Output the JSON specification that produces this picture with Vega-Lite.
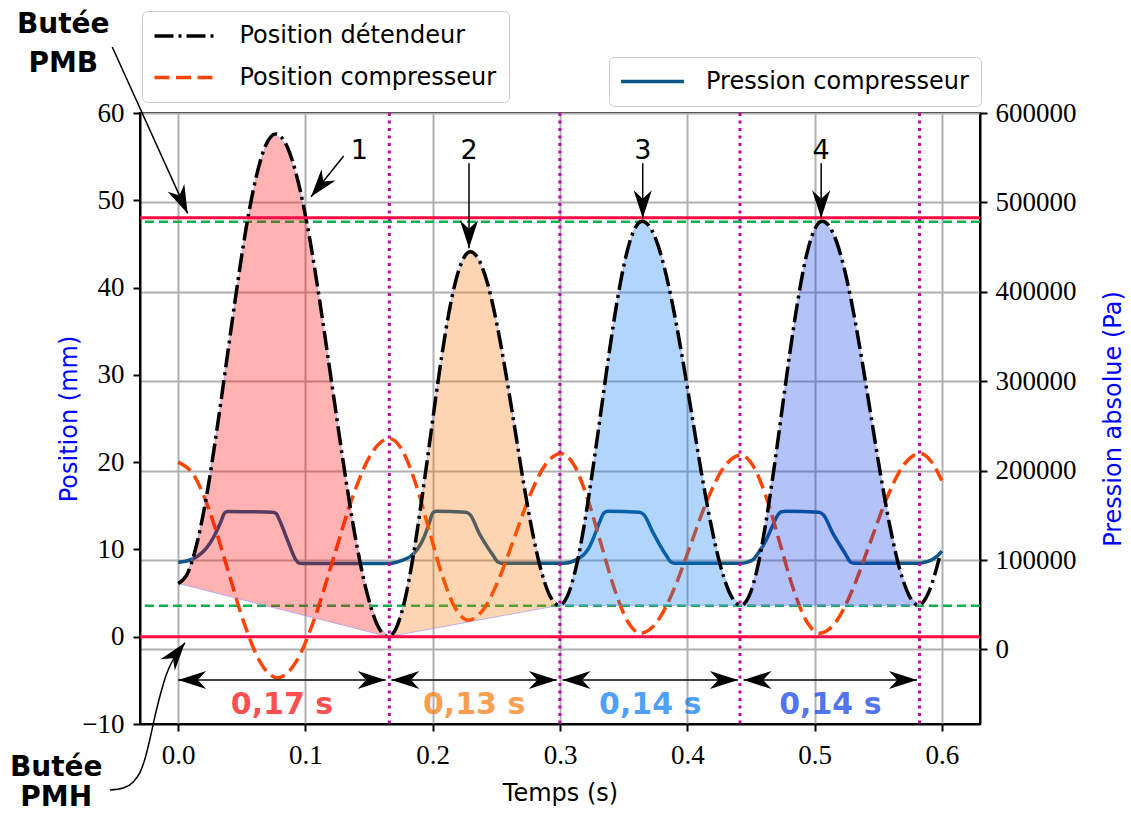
{
  "$schema": "https://vega.github.io/schema/vega-lite/v6.json",
  "width": 840,
  "height": 611,
  "autosize": {"type": "none"},
  "padding": {"left": 140, "top": 113, "right": 151, "bottom": 92},
  "background": "white",
  "config": {
    "view": {"stroke": "black", "strokeWidth": 2},
    "font": "DejaVu Sans",
    "axis": {
      "domainColor": "black", "domainWidth": 2, "tickColor": "black", "tickWidth": 2, "tickSize": 7,
      "labelFont": "Liberation Serif", "labelFontSize": 27, "labelColor": "black",
      "gridColor": "#b0b0b0", "gridWidth": 2, "gridOpacity": 1,
      "titleFont": "DejaVu Sans", "titleFontSize": 24, "titleFontWeight": "normal",
      "labelFlush": false, "labelOverlap": false, "labelBound": false
    },
    "legend": {"strokeColor": "#cccccc", "cornerRadius": 5, "fillColor": "white", "labelFont": "DejaVu Sans", "labelFontSize": 24, "labelColor": "black", "labelLimit": 500}
  },
  "datasets": {
    "pres": [
      {"t": 0, "v": 97500, "s": "Pression compresseur"},
      {"t": 0.008, "v": 99500, "s": "Pression compresseur"},
      {"t": 0.015, "v": 104000, "s": "Pression compresseur"},
      {"t": 0.022, "v": 113000, "s": "Pression compresseur"},
      {"t": 0.028, "v": 126000, "s": "Pression compresseur"},
      {"t": 0.033, "v": 141000, "s": "Pression compresseur"},
      {"t": 0.0365, "v": 152500, "s": "Pression compresseur"},
      {"t": 0.039, "v": 154300, "s": "Pression compresseur"},
      {"t": 0.055, "v": 154000, "s": "Pression compresseur"},
      {"t": 0.074, "v": 153500, "s": "Pression compresseur"},
      {"t": 0.077, "v": 152000, "s": "Pression compresseur"},
      {"t": 0.0795, "v": 145000, "s": "Pression compresseur"},
      {"t": 0.0865, "v": 120000, "s": "Pression compresseur"},
      {"t": 0.0925, "v": 100000, "s": "Pression compresseur"},
      {"t": 0.095, "v": 96500, "s": "Pression compresseur"},
      {"t": 0.098, "v": 96000, "s": "Pression compresseur"},
      {"t": 0.165, "v": 96000, "s": "Pression compresseur"},
      {"t": 0.170, "v": 97000, "s": "Pression compresseur"},
      {"t": 0.176, "v": 99500, "s": "Pression compresseur"},
      {"t": 0.183, "v": 104500, "s": "Pression compresseur"},
      {"t": 0.188, "v": 112000, "s": "Pression compresseur"},
      {"t": 0.193, "v": 125000, "s": "Pression compresseur"},
      {"t": 0.197, "v": 140000, "s": "Pression compresseur"},
      {"t": 0.2, "v": 152500, "s": "Pression compresseur"},
      {"t": 0.203, "v": 154500, "s": "Pression compresseur"},
      {"t": 0.226, "v": 153500, "s": "Pression compresseur"},
      {"t": 0.2295, "v": 150500, "s": "Pression compresseur"},
      {"t": 0.2365, "v": 130000, "s": "Pression compresseur"},
      {"t": 0.2475, "v": 105000, "s": "Pression compresseur"},
      {"t": 0.251, "v": 98000, "s": "Pression compresseur"},
      {"t": 0.254, "v": 96500, "s": "Pression compresseur"},
      {"t": 0.303, "v": 96500, "s": "Pression compresseur"},
      {"t": 0.308, "v": 97500, "s": "Pression compresseur"},
      {"t": 0.313, "v": 100500, "s": "Pression compresseur"},
      {"t": 0.318, "v": 105000, "s": "Pression compresseur"},
      {"t": 0.3225, "v": 113000, "s": "Pression compresseur"},
      {"t": 0.3268, "v": 126500, "s": "Pression compresseur"},
      {"t": 0.331, "v": 142000, "s": "Pression compresseur"},
      {"t": 0.3345, "v": 152500, "s": "Pression compresseur"},
      {"t": 0.3375, "v": 154500, "s": "Pression compresseur"},
      {"t": 0.3625, "v": 153500, "s": "Pression compresseur"},
      {"t": 0.366, "v": 150500, "s": "Pression compresseur"},
      {"t": 0.373, "v": 131000, "s": "Pression compresseur"},
      {"t": 0.3835, "v": 105000, "s": "Pression compresseur"},
      {"t": 0.387, "v": 98000, "s": "Pression compresseur"},
      {"t": 0.390, "v": 96500, "s": "Pression compresseur"},
      {"t": 0.443, "v": 96500, "s": "Pression compresseur"},
      {"t": 0.448, "v": 98000, "s": "Pression compresseur"},
      {"t": 0.4525, "v": 101500, "s": "Pression compresseur"},
      {"t": 0.4563, "v": 109000, "s": "Pression compresseur"},
      {"t": 0.4615, "v": 121000, "s": "Pression compresseur"},
      {"t": 0.4668, "v": 137500, "s": "Pression compresseur"},
      {"t": 0.471, "v": 150000, "s": "Pression compresseur"},
      {"t": 0.474, "v": 154000, "s": "Pression compresseur"},
      {"t": 0.478, "v": 154500, "s": "Pression compresseur"},
      {"t": 0.5035, "v": 153500, "s": "Pression compresseur"},
      {"t": 0.507, "v": 150500, "s": "Pression compresseur"},
      {"t": 0.514, "v": 131000, "s": "Pression compresseur"},
      {"t": 0.525, "v": 105000, "s": "Pression compresseur"},
      {"t": 0.528, "v": 98000, "s": "Pression compresseur"},
      {"t": 0.531, "v": 96500, "s": "Pression compresseur"},
      {"t": 0.583, "v": 96500, "s": "Pression compresseur"},
      {"t": 0.588, "v": 98000, "s": "Pression compresseur"},
      {"t": 0.5925, "v": 100500, "s": "Pression compresseur"},
      {"t": 0.597, "v": 105000, "s": "Pression compresseur"},
      {"t": 0.6, "v": 110000, "s": "Pression compresseur"}
    ],
    "comp": [
      {"t": 0, "v": 20.0, "s": "Position compresseur"},
      {"t": 0.013, "v": 18.35, "s": "Position compresseur"},
      {"t": 0.026, "v": 13.82, "s": "Position compresseur"},
      {"t": 0.039, "v": 7.65, "s": "Position compresseur"},
      {"t": 0.052, "v": 1.47, "s": "Position compresseur"},
      {"t": 0.065, "v": -3.05, "s": "Position compresseur"},
      {"t": 0.078, "v": -4.7, "s": "Position compresseur"},
      {"t": 0.0927, "v": -2.86, "s": "Position compresseur"},
      {"t": 0.1073, "v": 2.15, "s": "Position compresseur"},
      {"t": 0.122, "v": 9.0, "s": "Position compresseur"},
      {"t": 0.1367, "v": 15.85, "s": "Position compresseur"},
      {"t": 0.1513, "v": 20.86, "s": "Position compresseur"},
      {"t": 0.166, "v": 22.7, "s": "Position compresseur"},
      {"t": 0.1763, "v": 21.31, "s": "Position compresseur"},
      {"t": 0.1867, "v": 17.5, "s": "Position compresseur"},
      {"t": 0.197, "v": 12.3, "s": "Position compresseur"},
      {"t": 0.2073, "v": 7.1, "s": "Position compresseur"},
      {"t": 0.2177, "v": 3.29, "s": "Position compresseur"},
      {"t": 0.228, "v": 1.9, "s": "Position compresseur"},
      {"t": 0.2401, "v": 3.18, "s": "Position compresseur"},
      {"t": 0.2522, "v": 6.68, "s": "Position compresseur"},
      {"t": 0.2644, "v": 11.45, "s": "Position compresseur"},
      {"t": 0.2765, "v": 16.23, "s": "Position compresseur"},
      {"t": 0.2886, "v": 19.72, "s": "Position compresseur"},
      {"t": 0.3007, "v": 21.0, "s": "Position compresseur"},
      {"t": 0.3112, "v": 19.62, "s": "Position compresseur"},
      {"t": 0.3216, "v": 15.85, "s": "Position compresseur"},
      {"t": 0.3321, "v": 10.7, "s": "Position compresseur"},
      {"t": 0.3426, "v": 5.55, "s": "Position compresseur"},
      {"t": 0.353, "v": 1.78, "s": "Position compresseur"},
      {"t": 0.3635, "v": 0.4, "s": "Position compresseur"},
      {"t": 0.3766, "v": 1.77, "s": "Position compresseur"},
      {"t": 0.3897, "v": 5.5, "s": "Position compresseur"},
      {"t": 0.4028, "v": 10.6, "s": "Position compresseur"},
      {"t": 0.4158, "v": 15.7, "s": "Position compresseur"},
      {"t": 0.4289, "v": 19.43, "s": "Position compresseur"},
      {"t": 0.442, "v": 20.8, "s": "Position compresseur"},
      {"t": 0.4523, "v": 19.43, "s": "Position compresseur"},
      {"t": 0.4627, "v": 15.7, "s": "Position compresseur"},
      {"t": 0.473, "v": 10.6, "s": "Position compresseur"},
      {"t": 0.4833, "v": 5.5, "s": "Position compresseur"},
      {"t": 0.4937, "v": 1.77, "s": "Position compresseur"},
      {"t": 0.504, "v": 0.4, "s": "Position compresseur"},
      {"t": 0.5172, "v": 1.78, "s": "Position compresseur"},
      {"t": 0.5303, "v": 5.55, "s": "Position compresseur"},
      {"t": 0.5435, "v": 10.7, "s": "Position compresseur"},
      {"t": 0.5567, "v": 15.85, "s": "Position compresseur"},
      {"t": 0.5698, "v": 19.62, "s": "Position compresseur"},
      {"t": 0.583, "v": 21.0, "s": "Position compresseur"},
      {"t": 0.5915, "v": 20.1, "s": "Position compresseur"},
      {"t": 0.6, "v": 17.9, "s": "Position compresseur"}
    ],
    "det": [
      {"t": 0, "v": 6.1, "lo": 6.1, "h": 1, "s": "Position détendeur"},
      {"t": 0.0077, "v": 7.36, "lo": 5.82, "h": 1, "s": "Position détendeur"},
      {"t": 0.0153, "v": 11.02, "lo": 5.54, "h": 1, "s": "Position détendeur"},
      {"t": 0.023, "v": 16.71, "lo": 5.25, "h": 1, "s": "Position détendeur"},
      {"t": 0.0306, "v": 23.89, "lo": 4.97, "h": 1, "s": "Position détendeur"},
      {"t": 0.0383, "v": 31.85, "lo": 4.69, "h": 1, "s": "Position détendeur"},
      {"t": 0.046, "v": 39.81, "lo": 4.4, "h": 1, "s": "Position détendeur"},
      {"t": 0.0536, "v": 46.99, "lo": 4.12, "h": 1, "s": "Position détendeur"},
      {"t": 0.0613, "v": 52.68, "lo": 3.84, "h": 1, "s": "Position détendeur"},
      {"t": 0.0689, "v": 56.34, "lo": 3.56, "h": 1, "s": "Position détendeur"},
      {"t": 0.0766, "v": 57.6, "lo": 3.27, "h": 1, "s": "Position détendeur"},
      {"t": 0.0855, "v": 56.19, "lo": 2.94, "h": 1, "s": "Position détendeur"},
      {"t": 0.0943, "v": 52.1, "lo": 2.62, "h": 1, "s": "Position détendeur"},
      {"t": 0.1032, "v": 45.73, "lo": 2.29, "h": 1, "s": "Position détendeur"},
      {"t": 0.112, "v": 37.7, "lo": 1.96, "h": 1, "s": "Position détendeur"},
      {"t": 0.1209, "v": 28.8, "lo": 1.64, "h": 1, "s": "Position détendeur"},
      {"t": 0.1298, "v": 19.9, "lo": 1.31, "h": 1, "s": "Position détendeur"},
      {"t": 0.1386, "v": 11.87, "lo": 0.98, "h": 1, "s": "Position détendeur"},
      {"t": 0.1475, "v": 5.5, "lo": 0.65, "h": 1, "s": "Position détendeur"},
      {"t": 0.1563, "v": 1.41, "lo": 0.33, "h": 1, "s": "Position détendeur"},
      {"t": 0.1652, "v": 0, "lo": 0, "h": 1, "s": "Position détendeur"},
      {"t": 0.1652, "v": 0, "lo": 0, "h": 2, "b": 1, "s": "Position détendeur"},
      {"t": 0.1716, "v": 1.08, "lo": 0.17, "h": 2, "s": "Position détendeur"},
      {"t": 0.1781, "v": 4.21, "lo": 0.35, "h": 2, "s": "Position détendeur"},
      {"t": 0.1845, "v": 9.09, "lo": 0.52, "h": 2, "s": "Position détendeur"},
      {"t": 0.1909, "v": 15.24, "lo": 0.69, "h": 2, "s": "Position détendeur"},
      {"t": 0.1974, "v": 22.05, "lo": 0.86, "h": 2, "s": "Position détendeur"},
      {"t": 0.2038, "v": 28.86, "lo": 1.04, "h": 2, "s": "Position détendeur"},
      {"t": 0.2102, "v": 35.01, "lo": 1.21, "h": 2, "s": "Position détendeur"},
      {"t": 0.2166, "v": 39.89, "lo": 1.38, "h": 2, "s": "Position détendeur"},
      {"t": 0.2231, "v": 43.02, "lo": 1.55, "h": 2, "s": "Position détendeur"},
      {"t": 0.2295, "v": 44.1, "lo": 1.72, "h": 2, "s": "Position détendeur"},
      {"t": 0.2365, "v": 43.11, "lo": 1.91, "h": 2, "s": "Position détendeur"},
      {"t": 0.2435, "v": 40.23, "lo": 2.1, "h": 2, "s": "Position détendeur"},
      {"t": 0.2505, "v": 35.75, "lo": 2.29, "h": 2, "s": "Position détendeur"},
      {"t": 0.2575, "v": 30.11, "lo": 2.48, "h": 2, "s": "Position détendeur"},
      {"t": 0.2645, "v": 23.85, "lo": 2.66, "h": 2, "s": "Position détendeur"},
      {"t": 0.2714, "v": 17.59, "lo": 2.85, "h": 2, "s": "Position détendeur"},
      {"t": 0.2784, "v": 11.95, "lo": 3.04, "h": 2, "s": "Position détendeur"},
      {"t": 0.2854, "v": 7.47, "lo": 3.22, "h": 2, "s": "Position détendeur"},
      {"t": 0.2924, "v": 4.59, "lo": 3.41, "h": 2, "s": "Position détendeur"},
      {"t": 0.2994, "v": 3.6, "lo": 3.6, "h": 2, "s": "Position détendeur"},
      {"t": 0.2994, "v": 3.6, "lo": 3.6, "h": 3, "b": 1, "s": "Position détendeur"},
      {"t": 0.3059, "v": 4.68, "lo": 3.6, "h": 3, "s": "Position détendeur"},
      {"t": 0.3124, "v": 7.8, "lo": 3.6, "h": 3, "s": "Position détendeur"},
      {"t": 0.3189, "v": 12.67, "lo": 3.6, "h": 3, "s": "Position détendeur"},
      {"t": 0.3254, "v": 18.8, "lo": 3.6, "h": 3, "s": "Position détendeur"},
      {"t": 0.332, "v": 25.6, "lo": 3.6, "h": 3, "s": "Position détendeur"},
      {"t": 0.3385, "v": 32.4, "lo": 3.6, "h": 3, "s": "Position détendeur"},
      {"t": 0.345, "v": 38.53, "lo": 3.6, "h": 3, "s": "Position détendeur"},
      {"t": 0.3515, "v": 43.4, "lo": 3.6, "h": 3, "s": "Position détendeur"},
      {"t": 0.358, "v": 46.52, "lo": 3.6, "h": 3, "s": "Position détendeur"},
      {"t": 0.3645, "v": 47.6, "lo": 3.6, "h": 3, "s": "Position détendeur"},
      {"t": 0.3723, "v": 46.52, "lo": 3.6, "h": 3, "s": "Position détendeur"},
      {"t": 0.38, "v": 43.4, "lo": 3.6, "h": 3, "s": "Position détendeur"},
      {"t": 0.3878, "v": 38.53, "lo": 3.6, "h": 3, "s": "Position détendeur"},
      {"t": 0.3956, "v": 32.4, "lo": 3.6, "h": 3, "s": "Position détendeur"},
      {"t": 0.4034, "v": 25.6, "lo": 3.6, "h": 3, "s": "Position détendeur"},
      {"t": 0.4111, "v": 18.8, "lo": 3.6, "h": 3, "s": "Position détendeur"},
      {"t": 0.4189, "v": 12.67, "lo": 3.6, "h": 3, "s": "Position détendeur"},
      {"t": 0.4267, "v": 7.8, "lo": 3.6, "h": 3, "s": "Position détendeur"},
      {"t": 0.4344, "v": 4.68, "lo": 3.6, "h": 3, "s": "Position détendeur"},
      {"t": 0.4422, "v": 3.6, "lo": 3.6, "h": 3, "s": "Position détendeur"},
      {"t": 0.4422, "v": 3.6, "lo": 3.6, "h": 4, "b": 1, "s": "Position détendeur"},
      {"t": 0.4486, "v": 4.68, "lo": 3.6, "h": 4, "s": "Position détendeur"},
      {"t": 0.455, "v": 7.8, "lo": 3.6, "h": 4, "s": "Position détendeur"},
      {"t": 0.4613, "v": 12.67, "lo": 3.6, "h": 4, "s": "Position détendeur"},
      {"t": 0.4677, "v": 18.8, "lo": 3.6, "h": 4, "s": "Position détendeur"},
      {"t": 0.4741, "v": 25.6, "lo": 3.6, "h": 4, "s": "Position détendeur"},
      {"t": 0.4805, "v": 32.4, "lo": 3.6, "h": 4, "s": "Position détendeur"},
      {"t": 0.4869, "v": 38.53, "lo": 3.6, "h": 4, "s": "Position détendeur"},
      {"t": 0.4932, "v": 43.4, "lo": 3.6, "h": 4, "s": "Position détendeur"},
      {"t": 0.4996, "v": 46.52, "lo": 3.6, "h": 4, "s": "Position détendeur"},
      {"t": 0.506, "v": 47.6, "lo": 3.6, "h": 4, "s": "Position détendeur"},
      {"t": 0.5136, "v": 46.52, "lo": 3.6, "h": 4, "s": "Position détendeur"},
      {"t": 0.5212, "v": 43.4, "lo": 3.6, "h": 4, "s": "Position détendeur"},
      {"t": 0.5288, "v": 38.53, "lo": 3.6, "h": 4, "s": "Position détendeur"},
      {"t": 0.5364, "v": 32.4, "lo": 3.6, "h": 4, "s": "Position détendeur"},
      {"t": 0.544, "v": 25.6, "lo": 3.6, "h": 4, "s": "Position détendeur"},
      {"t": 0.5516, "v": 18.8, "lo": 3.6, "h": 4, "s": "Position détendeur"},
      {"t": 0.5592, "v": 12.67, "lo": 3.6, "h": 4, "s": "Position détendeur"},
      {"t": 0.5668, "v": 7.8, "lo": 3.6, "h": 4, "s": "Position détendeur"},
      {"t": 0.5744, "v": 4.68, "lo": 3.6, "h": 4, "s": "Position détendeur"},
      {"t": 0.582, "v": 3.6, "lo": 3.6, "h": 4, "s": "Position détendeur"},
      {"t": 0.582, "v": 3.6, "lo": 3.6, "h": 5, "b": 1, "s": "Position détendeur"},
      {"t": 0.586, "v": 4.1, "lo": 3.6, "h": 5, "s": "Position détendeur"},
      {"t": 0.59, "v": 5.2, "lo": 3.6, "h": 5, "s": "Position détendeur"},
      {"t": 0.594, "v": 6.9, "lo": 3.6, "h": 5, "s": "Position détendeur"},
      {"t": 0.598, "v": 9.0, "lo": 3.6, "h": 5, "s": "Position détendeur"}
    ]
  },
  "resolve": {"scale": {"y": "independent"}},
  "layer": [
    {
      "data": {"name": "pres"},
      "mark": {"type": "line", "strokeWidth": 3.5, "interpolate": "monotone"},
      "encoding": {
        "x": {"field": "t", "type": "quantitative", "scale": {"domain": [-0.03, 0.63], "nice": false, "zero": false},
              "axis": {"values": [0, 0.1, 0.2, 0.3, 0.4, 0.5, 0.6], "format": ".1f", "grid": true, "title": "Temps (s)", "titleX": 420, "titleY": 76, "titleAlign": "center", "titleBaseline": "alphabetic", "labelPadding": 11}},
        "y": {"field": "v", "type": "quantitative", "scale": {"domain": [-83400, 600000], "nice": false, "zero": false},
              "axis": {"orient": "right", "values": [0, 100000, 200000, 300000, 400000, 500000, 600000], "format": "d", "grid": true, "title": "Pression absolue (Pa)", "titleColor": "#0000ff", "titleAngle": 270, "titleX": 140, "titleY": 305.5, "titleAlign": "center", "titleBaseline": "alphabetic", "labelPadding": 8}},
        "stroke": {"field": "s", "type": "nominal", "scale": {"domain": ["Pression compresseur"], "range": ["#0c5688"]},
                   "legend": {"orient": "none", "legendX": 469, "legendY": -56, "title": null, "symbolType": "M0,0H6", "symbolSize": 441, "symbolOffset": -12.5, "symbolStrokeWidth": 3.5, "labelOffset": 72.5, "padding": 12}}
      }
    },
    {
      "layer": [
        {
          "data": {"values": [{"v": 47.55}, {"v": 3.55}]},
          "mark": {"type": "rule", "color": "#0db14b", "strokeWidth": 2.5, "strokeDash": [9, 5]},
          "encoding": {
            "y": {"field": "v", "type": "quantitative", "scale": {"domain": [-10, 60], "nice": false, "zero": false},
                  "axis": {"orient": "left", "values": [-10, 0, 10, 20, 30, 40, 50, 60], "format": "d", "grid": false, "title": "Position (mm)", "titleColor": "#0000ff", "titleAngle": 270, "titleX": -64, "titleY": 305.5, "titleAlign": "center", "titleBaseline": "alphabetic", "labelPadding": 9}}
          }
        },
        {
          "data": {"name": "comp"},
          "mark": {"type": "line", "strokeWidth": 3.5, "interpolate": "monotone"},
          "encoding": {
            "x": {"field": "t", "type": "quantitative", "scale": {"domain": [-0.03, 0.63], "nice": false, "zero": false}},
            "y": {"field": "v", "type": "quantitative", "scale": {"domain": [-10, 60], "nice": false, "zero": false}},
            "color": {"field": "s", "type": "nominal", "scale": {"domain": ["Position détendeur", "Position compresseur"], "range": ["#000000", "#ff4500"]},
                      "legend": {"orient": "none", "legendX": 2, "legendY": -102, "title": null, "symbolType": "M0,0H6", "symbolSize": 441, "symbolOffset": -12.5, "symbolStrokeWidth": 3.5, "labelOffset": 72.5, "padding": 12.5, "rowPadding": 16.5}},
            "strokeDash": {"field": "s", "type": "nominal", "scale": {"domain": ["Position détendeur", "Position compresseur"], "range": [[19, 5, 3, 5], [15, 6.5]]},
                      "legend": {"orient": "none", "legendX": 2, "legendY": -102, "title": null, "symbolType": "M0,0H6", "symbolSize": 441, "symbolOffset": -12.5, "symbolStrokeWidth": 3.5, "labelOffset": 72.5, "padding": 12.5, "rowPadding": 16.5}}
          }
        },
        {
          "data": {"name": "det"},
          "transform": [{"filter": "datum.h < 5"}],
          "mark": {"type": "area", "fillOpacity": 0.3, "stroke": "#8c8cff", "strokeWidth": 1, "strokeOpacity": 0.6},
          "encoding": {
            "x": {"field": "t", "type": "quantitative", "scale": {"domain": [-0.03, 0.63], "nice": false, "zero": false}},
            "y": {"field": "v", "type": "quantitative", "scale": {"domain": [-10, 60], "nice": false, "zero": false}},
            "y2": {"field": "lo"},
            "fill": {"field": "h", "type": "nominal", "scale": {"domain": [1, 2, 3, 4], "range": ["#ff0000", "#f87300", "#0176f2", "#0237e4"]}, "legend": null}
          }
        },
        {
          "data": {"name": "det"},
          "transform": [{"filter": "!datum.b"}],
          "mark": {"type": "line", "strokeWidth": 3.5, "interpolate": "monotone"},
          "encoding": {
            "x": {"field": "t", "type": "quantitative", "scale": {"domain": [-0.03, 0.63], "nice": false, "zero": false}},
            "y": {"field": "v", "type": "quantitative", "scale": {"domain": [-10, 60], "nice": false, "zero": false}},
            "color": {"field": "s", "type": "nominal"},
            "strokeDash": {"field": "s", "type": "nominal"}
          }
        },
        {
          "data": {"values": [{"v": 48}, {"v": 0}]},
          "mark": {"type": "rule", "color": "#ff0a45", "strokeWidth": 3},
          "encoding": {
            "y": {"field": "v", "type": "quantitative", "scale": {"domain": [-10, 60], "nice": false, "zero": false}}
          }
        },
        {
          "data": {"values": [{"t": 0.1659}, {"t": 0.2999}, {"t": 0.4414}, {"t": 0.5825}]},
          "mark": {"type": "rule", "color": "#c800a8", "strokeWidth": 3, "strokeDash": [3, 4.5]},
          "encoding": {
            "x": {"field": "t", "type": "quantitative", "scale": {"domain": [-0.03, 0.63], "nice": false, "zero": false}}
          }
        },
        {
          "data": {"values": [
            {"t": -0.0518, "v": 67.56, "t2": 0.0074, "v2": 48.5},
            {"t": 0.130, "v": 55.07, "t2": 0.1044, "v2": 50.41},
            {"t": 0.2285, "v": 54.23, "t2": 0.2285, "v2": 44.5},
            {"t": 0.365, "v": 54.23, "t2": 0.365, "v2": 47.93},
            {"t": 0.5052, "v": 54.23, "t2": 0.5052, "v2": 47.93},
            {"t": 0, "v": -4.96, "t2": 0.163, "v2": -4.96},
            {"t": 0.1675, "v": -4.96, "t2": 0.2975, "v2": -4.96},
            {"t": 0.302, "v": -4.96, "t2": 0.4398, "v2": -4.96},
            {"t": 0.4442, "v": -4.96, "t2": 0.5805, "v2": -4.96}
          ]},
          "mark": {"type": "rule", "color": "black", "strokeWidth": 1.5},
          "encoding": {
            "x": {"field": "t", "type": "quantitative", "scale": {"domain": [-0.03, 0.63], "nice": false, "zero": false}},
            "y": {"field": "v", "type": "quantitative", "scale": {"domain": [-10, 60], "nice": false, "zero": false}},
            "x2": {"field": "t2"},
            "y2": {"field": "v2"}
          }
        },
        {
          "data": {"values": [
            {"t": -0.0536, "v": -17.56}, {"t": -0.0432, "v": -17.33}, {"t": -0.0353, "v": -16.64},
            {"t": -0.0298, "v": -15.49}, {"t": -0.0259, "v": -13.89}, {"t": -0.022, "v": -11.6},
            {"t": -0.018, "v": -8.96}, {"t": -0.0141, "v": -6.67}, {"t": -0.0094, "v": -4.38},
            {"t": -0.0046, "v": -2.78}, {"t": 0.0009, "v": -1.64}, {"t": 0.0053, "v": -0.69}
          ]},
          "mark": {"type": "line", "color": "black", "strokeWidth": 1.5, "interpolate": "monotone"},
          "encoding": {
            "x": {"field": "t", "type": "quantitative", "scale": {"domain": [-0.03, 0.63], "nice": false, "zero": false}},
            "y": {"field": "v", "type": "quantitative", "scale": {"domain": [-10, 60], "nice": false, "zero": false}}
          }
        },
        {
          "data": {"values": [{"t": 0.163, "v": -4.96}, {"t": 0.2975, "v": -4.96}, {"t": 0.4398, "v": -4.96}, {"t": 0.5805, "v": -4.96}]},
          "mark": {"type": "point", "shape": "M0,0L-2,-0.65L-1.4,0L-2,0.65Z", "filled": true, "color": "black", "opacity": 1, "size": 784, "angle": 0},
          "encoding": {
            "x": {"field": "t", "type": "quantitative", "scale": {"domain": [-0.03, 0.63], "nice": false, "zero": false}},
            "y": {"field": "v", "type": "quantitative", "scale": {"domain": [-10, 60], "nice": false, "zero": false}}
          }
        },
        {
          "data": {"values": [{"t": 0, "v": -4.96}, {"t": 0.1675, "v": -4.96}, {"t": 0.302, "v": -4.96}, {"t": 0.4442, "v": -4.96}]},
          "mark": {"type": "point", "shape": "M0,0L-2,-0.65L-1.4,0L-2,0.65Z", "filled": true, "color": "black", "opacity": 1, "size": 784, "angle": 180},
          "encoding": {
            "x": {"field": "t", "type": "quantitative", "scale": {"domain": [-0.03, 0.63], "nice": false, "zero": false}},
            "y": {"field": "v", "type": "quantitative", "scale": {"domain": [-10, 60], "nice": false, "zero": false}}
          }
        },
        {
          "data": {"values": [{"t": 0.2285, "v": 44.5}, {"t": 0.365, "v": 47.93}, {"t": 0.5052, "v": 47.93}]},
          "mark": {"type": "point", "shape": "M0,0L-2,-0.65L-1.4,0L-2,0.65Z", "filled": true, "color": "black", "opacity": 1, "size": 784, "angle": 90},
          "encoding": {
            "x": {"field": "t", "type": "quantitative", "scale": {"domain": [-0.03, 0.63], "nice": false, "zero": false}},
            "y": {"field": "v", "type": "quantitative", "scale": {"domain": [-10, 60], "nice": false, "zero": false}}
          }
        },
        {
          "data": {"values": [{"t": 0.0074, "v": 48.5}]},
          "mark": {"type": "point", "shape": "M0,0L-2,-0.65L-1.4,0L-2,0.65Z", "filled": true, "color": "black", "opacity": 1, "size": 784, "angle": 65.6},
          "encoding": {
            "x": {"field": "t", "type": "quantitative", "scale": {"domain": [-0.03, 0.63], "nice": false, "zero": false}},
            "y": {"field": "v", "type": "quantitative", "scale": {"domain": [-10, 60], "nice": false, "zero": false}}
          }
        },
        {
          "data": {"values": [{"t": 0.1044, "v": 50.41}]},
          "mark": {"type": "point", "shape": "M0,0L-2,-0.65L-1.4,0L-2,0.65Z", "filled": true, "color": "black", "opacity": 1, "size": 784, "angle": 128.7},
          "encoding": {
            "x": {"field": "t", "type": "quantitative", "scale": {"domain": [-0.03, 0.63], "nice": false, "zero": false}},
            "y": {"field": "v", "type": "quantitative", "scale": {"domain": [-10, 60], "nice": false, "zero": false}}
          }
        },
        {
          "data": {"values": [{"t": 0.0053, "v": -0.69}]},
          "mark": {"type": "point", "shape": "M0,0L-2,-0.65L-1.4,0L-2,0.65Z", "filled": true, "color": "black", "opacity": 1, "size": 784, "angle": 308},
          "encoding": {
            "x": {"field": "t", "type": "quantitative", "scale": {"domain": [-0.03, 0.63], "nice": false, "zero": false}},
            "y": {"field": "v", "type": "quantitative", "scale": {"domain": [-10, 60], "nice": false, "zero": false}}
          }
        },
        {
          "data": {"values": [{"t": 0.1424, "v": 54.69, "l": "1"}, {"t": 0.2285, "v": 54.69, "l": "2"}, {"t": 0.365, "v": 54.69, "l": "3"}, {"t": 0.5052, "v": 54.69, "l": "4"}]},
          "mark": {"type": "text", "font": "DejaVu Sans", "fontSize": 27, "color": "black", "align": "center", "baseline": "alphabetic"},
          "encoding": {
            "x": {"field": "t", "type": "quantitative", "scale": {"domain": [-0.03, 0.63], "nice": false, "zero": false}},
            "y": {"field": "v", "type": "quantitative", "scale": {"domain": [-10, 60], "nice": false, "zero": false}},
            "text": {"field": "l"}
          }
        },
        {
          "data": {"values": [{"t": -0.0903, "v": 69.12, "l": "Butée"}, {"t": -0.0903, "v": 64.73, "l": "PMB"}, {"t": -0.0958, "v": -16.0, "l": "Butée"}, {"t": -0.0958, "v": -19.45, "l": "PMH"}]},
          "mark": {"type": "text", "font": "DejaVu Sans", "fontSize": 28, "fontWeight": "bold", "color": "black", "align": "center", "baseline": "alphabetic"},
          "encoding": {
            "x": {"field": "t", "type": "quantitative", "scale": {"domain": [-0.03, 0.63], "nice": false, "zero": false}},
            "y": {"field": "v", "type": "quantitative", "scale": {"domain": [-10, 60], "nice": false, "zero": false}},
            "text": {"field": "l"}
          }
        },
        {
          "data": {"values": [{"t": 0.0815, "v": -8.86, "l": "0,17 s", "h": 1}, {"t": 0.2325, "v": -8.86, "l": "0,13 s", "h": 2}, {"t": 0.3709, "v": -8.86, "l": "0,14 s", "h": 3}, {"t": 0.5124, "v": -8.86, "l": "0,14 s", "h": 4}]},
          "mark": {"type": "text", "font": "DejaVu Sans", "fontSize": 30, "fontWeight": "bold", "fillOpacity": 0.7, "align": "center", "baseline": "alphabetic"},
          "encoding": {
            "x": {"field": "t", "type": "quantitative", "scale": {"domain": [-0.03, 0.63], "nice": false, "zero": false}},
            "y": {"field": "v", "type": "quantitative", "scale": {"domain": [-10, 60], "nice": false, "zero": false}},
            "text": {"field": "l"},
            "fill": {"field": "h", "type": "nominal", "legend": null}
          }
        }
      ]
    }
  ]
}
